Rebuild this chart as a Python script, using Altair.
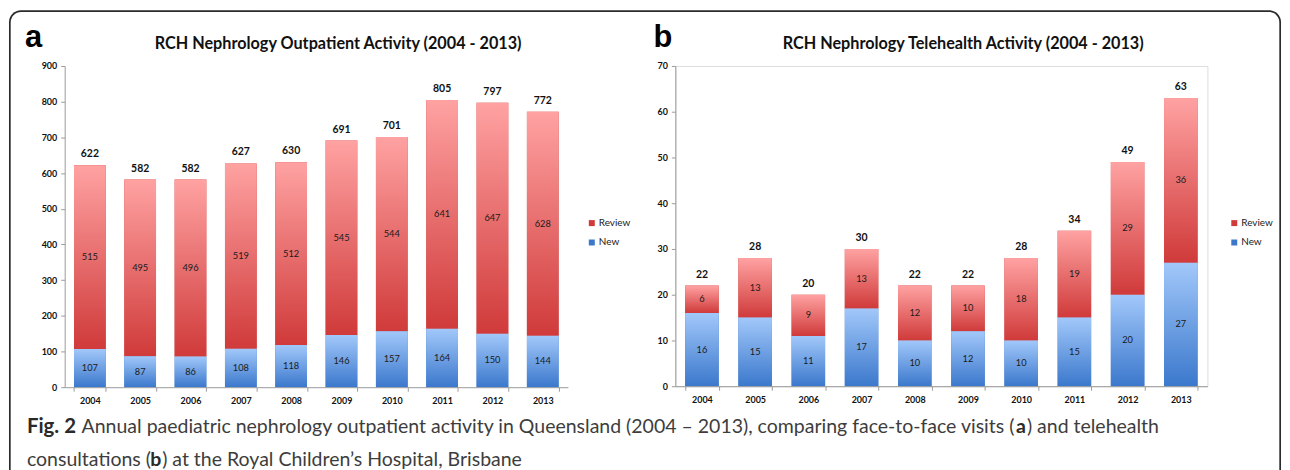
import altair as alt
import pandas as pd

# ---------------- data ----------------
years = [str(y) for y in range(2004, 2014)]
op_new = [107, 87, 86, 108, 118, 146, 157, 164, 150, 144]
op_review = [515, 495, 496, 519, 512, 545, 544, 641, 647, 628]
th_new = [16, 15, 11, 17, 10, 12, 10, 15, 20, 27]
th_review = [6, 13, 9, 13, 12, 10, 18, 19, 29, 36]
series = ["Review", "New"]

FONT = "Lato"
CAP_FONT = "Lato"
RED_TOP, RED_BOT = "#FFA2A2", "#D03A3A"
BLUE_TOP, BLUE_BOT = "#A2C8FA", "#3B78CC"


def grad(top, bot):
    return alt.Gradient(
        gradient="linear",
        stops=[alt.GradientStop(color=top, offset=0), alt.GradientStop(color=bot, offset=1)],
        x1=0, x2=0, y1=0, y2=1,
    )


def frame(new, review):
    rows = []
    for y, n, r in zip(years, new, review):
        rows.append(dict(year=y, series="New", lo=0, hi=n, mid=n / 2, val=n, total=n + r))
        rows.append(dict(year=y, series="Review", lo=n, hi=n + r, mid=n + r / 2, val=r, total=n + r))
    return pd.DataFrame(rows)


BLANK = alt.Data(values=[{"k": 1}])


def label(text, x, y, size, weight="normal", font=FONT, color="#1a1a1a", align="left"):
    return alt.Chart(BLANK).mark_text(
        text=text, font=font, fontSize=size, fontWeight=weight, color=color,
        align=align, baseline="alphabetic",
    ).encode(x=alt.value(x), y=alt.value(y))


def panel(new, review, ymax, ystep, width, height, title, title_x, letter, letter_x,
          legend_x, legend_y, extra_front=(), extra_back=()):
    df = frame(new, review)
    base = alt.Chart(df)
    xaxis = alt.Axis(
        labelAngle=0, tickBand="extent", domainColor="#9a9a9a", tickColor="#9a9a9a",
        tickSize=4, labelPadding=5, labelFont=FONT, labelFontWeight="bold", labelFontSize=9,
        labelColor="#111", title=None, zindex=1,
    )
    yaxis = alt.Axis(
        values=list(range(0, ymax + 1, ystep)), grid=False, domainColor="#9a9a9a",
        tickColor="#9a9a9a", tickSize=4, labelPadding=4, labelFont=FONT,
        labelFontWeight="bold", labelFontSize=9, labelColor="#111", title=None, zindex=1,
    )
    xs = alt.Scale(paddingInner=0.37, paddingOuter=0.185)
    ys = alt.Scale(domain=[0, ymax], nice=False)
    X = alt.X("year:N", scale=xs, axis=xaxis)

    def Y(field):
        return alt.Y(field, scale=ys, axis=yaxis)

    legend_bars = base.mark_bar().encode(
        x=X, y=Y("lo:Q"), y2="hi:Q",
        color=alt.Color(
            "series:N",
            scale=alt.Scale(domain=series, range=[RED_BOT, BLUE_BOT]),
            legend=alt.Legend(
                title=None, orient="none", legendX=legend_x, legendY=legend_y,
                symbolType="square", symbolSize=36, symbolStrokeWidth=0,
                labelFont=FONT, labelFontSize=10, labelColor="#222",
                labelOffset=2, rowPadding=9.5, padding=0,
            ),
        ),
    )
    red = base.transform_filter(alt.datum.series == "Review").mark_bar(
        fill=grad(RED_TOP, RED_BOT)
    ).encode(x=X, y=Y("lo:Q"), y2="hi:Q")
    blue = base.transform_filter(alt.datum.series == "New").mark_bar(
        fill=grad(BLUE_TOP, BLUE_BOT)
    ).encode(x=X, y=Y("lo:Q"), y2="hi:Q")
    seg = base.mark_text(font=FONT, fontSize=9.3, color="#1a1a1a", baseline="middle").encode(
        x=X, y=Y("mid:Q"), text="val:Q"
    )
    tot = base.transform_filter(alt.datum.series == "Review").mark_text(
        font=FONT, fontSize=10.5, fontWeight="bold", color="#111", baseline="middle", dy=-11
    ).encode(x=X, y=Y("total:Q"), text="total:Q")

    layers = list(extra_back) + [
        legend_bars, red, blue, seg, tot,
        label(title, title_x, -17, 16.3, weight="bold", align="center", color="#111"),
        label(letter, letter_x, -19, 31, weight="bold", font="Liberation Sans", color="#000"),
    ] + list(extra_front)
    return alt.layer(*layers).properties(width=width, height=height)


# border (outer dark rounded rect + inner white rect, open at the bottom)
border = [
    alt.Chart(BLANK).mark_rect(
        fill="#2b2b2b", cornerRadiusTopLeft=12, cornerRadiusTopRight=12
    ).encode(x=alt.value(-56), x2=alt.value(1223), y=alt.value(-56), y2=alt.value(410)),
    alt.Chart(BLANK).mark_rect(
        fill="white", cornerRadiusTopLeft=10.5, cornerRadiusTopRight=10.5
    ).encode(x=alt.value(-54.3), x2=alt.value(1221.3), y=alt.value(-54.3), y2=alt.value(410)),
]

CAP_SIZE = 19.6
CAP_COL = "#3d3d3d"
BOLD_COL = "#2a2a2a"
caption = [
    label("Fig. 2", -38, 369, 20.5, weight="bold", font=CAP_FONT, color=BOLD_COL),
    label("Annual paediatric nephrology outpatient activity in Queensland (2004 \u2013 2013), "
          "comparing face-to-face visits (", 17, 369, CAP_SIZE, font=CAP_FONT, color=CAP_COL),
    label("a", 956.5, 369, CAP_SIZE, weight="bold", font=CAP_FONT, color=BOLD_COL),
    label(") and telehealth", 967.5, 369, CAP_SIZE, font=CAP_FONT, color=CAP_COL),
    label("consultations (", -38, 402, CAP_SIZE, font=CAP_FONT, color=CAP_COL),
    label("b", 86, 402, CAP_SIZE, weight="bold", font=CAP_FONT, color=BOLD_COL),
    label(") at the Royal Children\u2019s Hospital, Brisbane", 98, 402, CAP_SIZE,
          font=CAP_FONT, color=CAP_COL),
]

pa = panel(op_new, op_review, 900, 100, 506, 323,
           "RCH Nephrology Outpatient Activity (2004 - 2013)", 275, "a", -40,
           525, 153, extra_front=caption, extra_back=border)
pb = panel(th_new, th_review, 70, 10, 535, 322,
           "RCH Nephrology Telehealth Activity (2004 - 2013)", 289.5, "b", -22,
           557, 153)

chart = alt.hconcat(pa, pb, spacing=108, bounds="flush", padding=0).resolve_scale(
    color="independent", x="independent", y="independent"
).resolve_legend(color="independent").configure_view(
    stroke="transparent"
).configure(background="white")

chart.save("out.html", embed_options={"renderer": "svg", "actions": False})
